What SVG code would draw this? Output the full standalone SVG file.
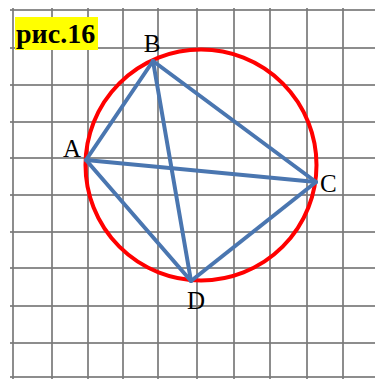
<svg xmlns="http://www.w3.org/2000/svg" width="375" height="379" viewBox="0 0 375 379">
<style>
.grid line{stroke:#7a7a7a;stroke-width:2;opacity:0.85}
.seg{stroke:#4a76b0;stroke-width:4;stroke-linecap:round;fill:none}
.lbl{font-family:"Liberation Serif","Times New Roman",serif;font-size:25px;fill:#000}
.ttl{font-family:"Liberation Serif","Times New Roman","DejaVu Serif",serif;font-size:28px;font-weight:bold;fill:#000}
</style>
<rect width="375" height="379" fill="#fff"/>
<g id="grid" class="grid">
<line x1="13" y1="8" x2="13" y2="379"/>
<line x1="52" y1="8" x2="52" y2="379"/>
<line x1="88" y1="8" x2="88" y2="379"/>
<line x1="123" y1="8" x2="123" y2="379"/>
<line x1="158" y1="8" x2="158" y2="379"/>
<line x1="197" y1="8" x2="197" y2="379"/>
<line x1="234" y1="8" x2="234" y2="379"/>
<line x1="270" y1="8" x2="270" y2="379"/>
<line x1="307" y1="8" x2="307" y2="379"/>
<line x1="343" y1="8" x2="343" y2="379"/>
<line x1="10" y1="10" x2="375" y2="10"/>
<line x1="10" y1="48" x2="375" y2="48"/>
<line x1="10" y1="85" x2="375" y2="85"/>
<line x1="10" y1="122" x2="375" y2="122"/>
<line x1="10" y1="158" x2="375" y2="158"/>
<line x1="10" y1="195" x2="375" y2="195"/>
<line x1="10" y1="232" x2="375" y2="232"/>
<line x1="10" y1="268" x2="375" y2="268"/>
<line x1="10" y1="306" x2="375" y2="306"/>
<line x1="10" y1="343" x2="375" y2="343"/>
<line x1="10" y1="377" x2="375" y2="377"/>
</g>
<g id="title">
<rect x="15" y="17" width="83" height="33" fill="#ffff00"/>
<text class="ttl" x="16" y="43">рис.16</text>
</g>
<g id="circle">
<circle cx="201" cy="165" r="115.5" fill="none" stroke="#ff0000" stroke-width="4"/>
</g>
<g id="connectors">
<line class="seg" x1="86" y1="160" x2="153" y2="61"/>
<line class="seg" x1="153" y1="61" x2="316" y2="182"/>
<line class="seg" x1="316" y1="182" x2="191" y2="281"/>
<line class="seg" x1="191" y1="281" x2="86" y2="160"/>
<line class="seg" x1="86" y1="160" x2="316" y2="182"/>
<line class="seg" x1="153" y1="61" x2="191" y2="281"/>
</g>
<g id="A"><text class="lbl" x="63" y="157">A</text></g>
<g id="B"><text class="lbl" x="152" y="52" text-anchor="middle">B</text></g>
<g id="C"><text class="lbl" x="320" y="192">C</text></g>
<g id="D"><text class="lbl" x="187" y="309">D</text></g>
</svg>
